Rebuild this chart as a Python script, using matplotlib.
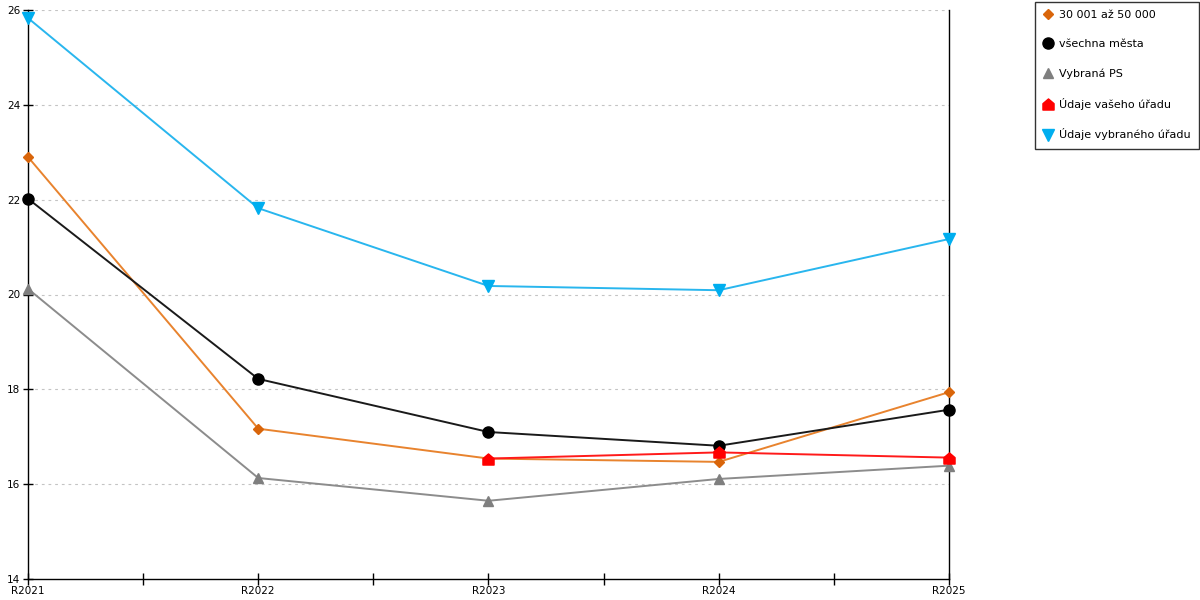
import numpy as np
import matplotlib.pyplot as plt
from matplotlib.path import Path
from matplotlib.lines import Line2D
from matplotlib.ticker import MultipleLocator

# Data
years = ["R2021", "R2022", "R2023", "R2024", "R2025"]
skupina = [22.90, 17.17, 16.54, 16.47, 17.94]       # 30 001 az 50 000
vsechna = [22.02, 18.22, 17.10, 16.81, 17.57]       # vsechna mesta
vybrana_ps = [20.12, 16.13, 15.65, 16.11, 16.39]
vas_urad = [np.nan, np.nan, 16.54, 16.67, 16.56]
vybrany_urad = [25.83, 21.82, 20.18, 20.09, 21.17]

labels = ["30 001 až 50 000", "všechna města", "Vybraná PS",
          "Údaje vašeho úřadu", "Údaje vybraného úřadu"]

# house shaped marker for "Udaje vaseho uradu"
house = Path([(-1, -1), (1, -1), (1, 0.15), (0, 1), (-1, 0.15), (-1, -1)],
             [Path.MOVETO, Path.LINETO, Path.LINETO, Path.LINETO, Path.LINETO, Path.CLOSEPOLY])

series = [
    (skupina, "#E8832E", "#D9650A", "D", 5.5),
    (vsechna, "#1A1A1A", "#000000", "o", 8),
    (vybrana_ps, "#8C8C8C", "#7F7F7F", "^", 7.5),
    (vas_urad, "#FF1A1A", "#FF0000", house, 8),
    (vybrany_urad, "#29B6EE", "#00AEEF", "v", 8),
]

fig = plt.figure(figsize=(12, 6), dpi=100)
ax = fig.add_axes([28 / 1200, 21 / 600, 921 / 1200, 569 / 600])

x = np.arange(len(years))
handles = []
for (vals, lc, mc, mk, ms), lab in zip(series, labels):
    ax.plot(x, vals, color=lc, linewidth=1.4, marker=mk, markersize=ms,
            markerfacecolor=mc, markeredgecolor=mc, zorder=3, clip_on=False)
    handles.append(Line2D([], [], linestyle="none", marker=mk, markersize=ms,
                          markerfacecolor=mc, markeredgecolor=mc))

ax.set_xlim(0, 4)
ax.set_ylim(14, 26)
ax.set_xticks(x)
ax.set_xticklabels(years)
ax.xaxis.set_minor_locator(MultipleLocator(0.5))
ax.set_yticks(np.arange(14, 27, 2))

for yv in range(16, 27, 2):
    ax.axhline(yv, color="#C4C4C4", linewidth=0.8, linestyle=(0, (2.5, 3.5)), zorder=1)

ax.spines["top"].set_visible(False)
for s in ["left", "right", "bottom"]:
    ax.spines[s].set_linewidth(1.0)
    ax.spines[s].set_color("black")

ax.tick_params(axis="x", which="both", direction="inout", length=8, width=1, labelsize=7.5, pad=1)
ax.tick_params(axis="y", direction="inout", length=7, width=1, labelsize=7.5, pad=2)
ax.tick_params(axis="y", right=False)

leg = fig.legend(handles, labels, loc="upper left", bbox_to_anchor=(1035 / 1200, 1 - 2 / 600),
                 fontsize=8, frameon=True, fancybox=False, edgecolor="black",
                 labelspacing=1.7, handlelength=0.8, handletextpad=0.6,
                 borderpad=0.75, borderaxespad=0)
leg.get_frame().set_linewidth(1.0)

fig.savefig("out.png", dpi=100)
